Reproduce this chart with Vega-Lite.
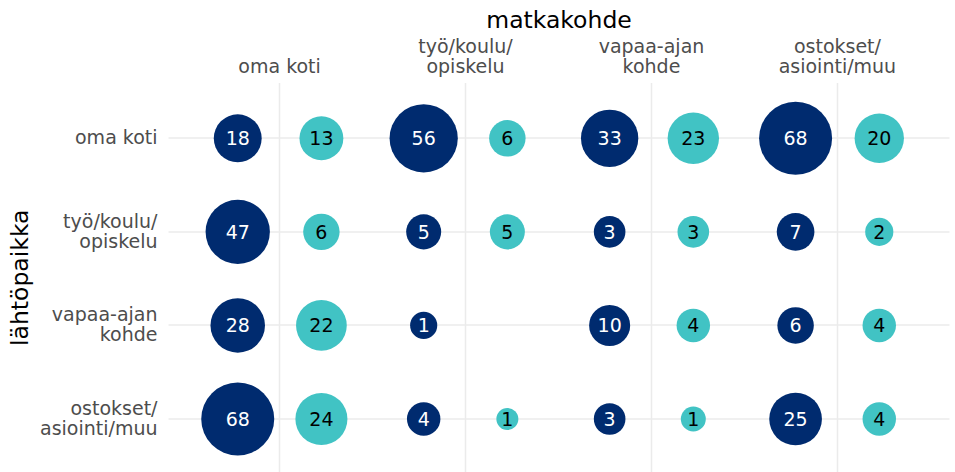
{
  "$schema": "https://vega.github.io/schema/vega-lite/v6.json",
  "width": 781,
  "height": 389.5,
  "autosize": {"type": "none"},
  "padding": {"left": 168, "top": 82.5, "right": 6, "bottom": 0},
  "background": "white",
  "config": {"view": {"stroke": null}, "font": "DejaVu Sans"},
  "data": {
    "values": [
      {"lahto": "oma koti", "kohde": "oma koti", "ryhma": "ryhmä 1", "n": 18},
      {"lahto": "oma koti", "kohde": "oma koti", "ryhma": "ryhmä 2", "n": 13},
      {"lahto": "oma koti", "kohde": "työ/koulu/\nopiskelu", "ryhma": "ryhmä 1", "n": 56},
      {"lahto": "oma koti", "kohde": "työ/koulu/\nopiskelu", "ryhma": "ryhmä 2", "n": 6},
      {"lahto": "oma koti", "kohde": "vapaa-ajan\nkohde", "ryhma": "ryhmä 1", "n": 33},
      {"lahto": "oma koti", "kohde": "vapaa-ajan\nkohde", "ryhma": "ryhmä 2", "n": 23},
      {"lahto": "oma koti", "kohde": "ostokset/\nasiointi/muu", "ryhma": "ryhmä 1", "n": 68},
      {"lahto": "oma koti", "kohde": "ostokset/\nasiointi/muu", "ryhma": "ryhmä 2", "n": 20},

      {"lahto": "työ/koulu/\nopiskelu", "kohde": "oma koti", "ryhma": "ryhmä 1", "n": 47},
      {"lahto": "työ/koulu/\nopiskelu", "kohde": "oma koti", "ryhma": "ryhmä 2", "n": 6},
      {"lahto": "työ/koulu/\nopiskelu", "kohde": "työ/koulu/\nopiskelu", "ryhma": "ryhmä 1", "n": 5},
      {"lahto": "työ/koulu/\nopiskelu", "kohde": "työ/koulu/\nopiskelu", "ryhma": "ryhmä 2", "n": 5},
      {"lahto": "työ/koulu/\nopiskelu", "kohde": "vapaa-ajan\nkohde", "ryhma": "ryhmä 1", "n": 3},
      {"lahto": "työ/koulu/\nopiskelu", "kohde": "vapaa-ajan\nkohde", "ryhma": "ryhmä 2", "n": 3},
      {"lahto": "työ/koulu/\nopiskelu", "kohde": "ostokset/\nasiointi/muu", "ryhma": "ryhmä 1", "n": 7},
      {"lahto": "työ/koulu/\nopiskelu", "kohde": "ostokset/\nasiointi/muu", "ryhma": "ryhmä 2", "n": 1.6},

      {"lahto": "vapaa-ajan\nkohde", "kohde": "oma koti", "ryhma": "ryhmä 1", "n": 28},
      {"lahto": "vapaa-ajan\nkohde", "kohde": "oma koti", "ryhma": "ryhmä 2", "n": 22},
      {"lahto": "vapaa-ajan\nkohde", "kohde": "työ/koulu/\nopiskelu", "ryhma": "ryhmä 1", "n": 1.3},
      {"lahto": "vapaa-ajan\nkohde", "kohde": "vapaa-ajan\nkohde", "ryhma": "ryhmä 1", "n": 10},
      {"lahto": "vapaa-ajan\nkohde", "kohde": "vapaa-ajan\nkohde", "ryhma": "ryhmä 2", "n": 4},
      {"lahto": "vapaa-ajan\nkohde", "kohde": "ostokset/\nasiointi/muu", "ryhma": "ryhmä 1", "n": 6},
      {"lahto": "vapaa-ajan\nkohde", "kohde": "ostokset/\nasiointi/muu", "ryhma": "ryhmä 2", "n": 4},

      {"lahto": "ostokset/\nasiointi/muu", "kohde": "oma koti", "ryhma": "ryhmä 1", "n": 68},
      {"lahto": "ostokset/\nasiointi/muu", "kohde": "oma koti", "ryhma": "ryhmä 2", "n": 24},
      {"lahto": "ostokset/\nasiointi/muu", "kohde": "työ/koulu/\nopiskelu", "ryhma": "ryhmä 1", "n": 4},
      {"lahto": "ostokset/\nasiointi/muu", "kohde": "työ/koulu/\nopiskelu", "ryhma": "ryhmä 2", "n": 0.6},
      {"lahto": "ostokset/\nasiointi/muu", "kohde": "vapaa-ajan\nkohde", "ryhma": "ryhmä 1", "n": 3},
      {"lahto": "ostokset/\nasiointi/muu", "kohde": "vapaa-ajan\nkohde", "ryhma": "ryhmä 2", "n": 0.9},
      {"lahto": "ostokset/\nasiointi/muu", "kohde": "ostokset/\nasiointi/muu", "ryhma": "ryhmä 1", "n": 25},
      {"lahto": "ostokset/\nasiointi/muu", "kohde": "ostokset/\nasiointi/muu", "ryhma": "ryhmä 2", "n": 4}
    ]
  },
  "encoding": {
    "x": {
      "field": "kohde",
      "type": "nominal",
      "sort": ["oma koti", "työ/koulu/\nopiskelu", "vapaa-ajan\nkohde", "ostokset/\nasiointi/muu"],
      "scale": {"type": "band", "paddingInner": 0, "paddingOuter": 0.1},
      "axis": {
        "orient": "top",
        "title": "matkakohde",
        "titleFont": "DejaVu Sans",
        "titleFontSize": 23.5,
        "titleFontWeight": "normal",
        "titleColor": "#000000",
        "titlePadding": 5,
        "labelExpr": "indexof(datum.label, '\\n') < 0 ? ['', datum.label] : split(datum.label, '\\n')",
        "labelFont": "DejaVu Sans",
        "labelFontSize": 19,
        "labelColor": "#4D4D4D",
        "labelLineHeight": 20,
        "labelAngle": 0,
        "labelAlign": "center",
        "labelBaseline": "top",
        "labelPadding": 44.8,
        "ticks": false,
        "tickSize": 0,
        "domain": false,
        "grid": true,
        "gridColor": "#EBEBEB",
        "gridWidth": 1.5,
        "bandPosition": 0.5
      }
    },
    "xOffset": {
      "field": "ryhma",
      "type": "nominal",
      "sort": ["ryhmä 1", "ryhmä 2"],
      "scale": {"type": "band", "paddingInner": 0, "paddingOuter": 0.1111}
    },
    "y": {
      "field": "lahto",
      "type": "nominal",
      "sort": ["oma koti", "työ/koulu/\nopiskelu", "vapaa-ajan\nkohde", "ostokset/\nasiointi/muu"],
      "scale": {"type": "band", "paddingInner": 0, "paddingOuter": 0.0814, "align": 0.592},
      "axis": {
        "orient": "left",
        "title": "lähtöpaikka",
        "titleFont": "DejaVu Sans",
        "titleFontSize": 23.5,
        "titleFontWeight": "normal",
        "titleColor": "#000000",
        "titlePadding": 7,
        "labelExpr": "split(datum.label, '\\n')",
        "labelFont": "DejaVu Sans",
        "labelFontSize": 19,
        "labelColor": "#4D4D4D",
        "labelLineHeight": 20,
        "labelAlign": "right",
        "labelBaseline": {"condition": {"test": "indexof(datum.label, '\\n') >= 0", "value": "line-bottom"}, "value": "middle"},
        "labelPadding": 11,
        "ticks": false,
        "tickSize": 0,
        "domain": false,
        "grid": true,
        "gridColor": "#EBEBEB",
        "gridWidth": 1.5,
        "bandPosition": 0.5
      }
    }
  },
  "layer": [
    {
      "mark": {"type": "circle", "opacity": 1, "strokeWidth": 0},
      "encoding": {
        "fill": {
          "field": "ryhma",
          "type": "nominal",
          "scale": {"domain": ["ryhmä 1", "ryhmä 2"], "range": ["#002B6F", "#41C3C4"]},
          "legend": null
        },
        "size": {
          "field": "n",
          "type": "quantitative",
          "scale": {
            "type": "linear",
            "zero": false,
            "nice": false,
            "domain": [0.6, 1, 1.5, 2, 3, 4, 5, 6, 8, 10, 13, 16, 20, 25, 30, 40, 50, 60, 68],
            "range": [484, 672, 778, 861, 1000, 1119, 1227, 1328, 1513, 1685, 1926, 2151, 2436, 2776, 3100, 3720, 4311, 4883, 5329]
          },
          "legend": null
        }
      }
    },
    {
      "mark": {"type": "text", "font": "DejaVu Sans", "fontSize": 19, "baseline": "middle", "align": "center", "dy": 1},
      "encoding": {
        "text": {"field": "n", "type": "quantitative", "format": ".0f"},
        "color": {
          "field": "ryhma",
          "type": "nominal",
          "scale": {"domain": ["ryhmä 1", "ryhmä 2"], "range": ["#FFFFFF", "#000000"]},
          "legend": null
        }
      }
    }
  ]
}
